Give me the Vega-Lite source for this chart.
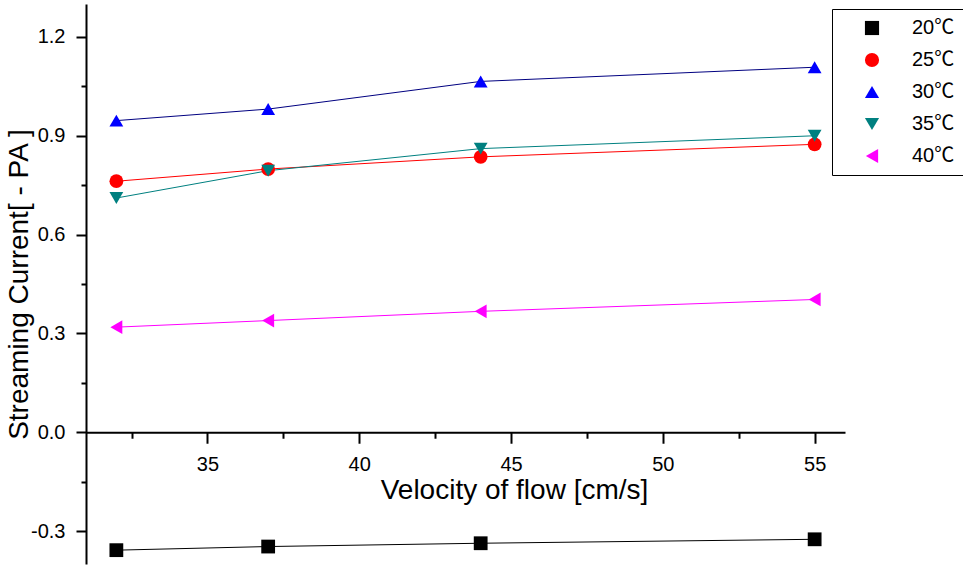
{
  "$schema": "https://vega.github.io/schema/vega-lite/v6.json",
  "width": 759,
  "height": 560,
  "autosize": {"type": "none"},
  "padding": {"left": 86, "top": 4, "right": 118, "bottom": 6},
  "background": "white",
  "config": {
    "view": {"stroke": null},
    "font": "Liberation Sans",
    "axis": {"grid": false, "labelFont": "Liberation Sans", "titleFont": "Liberation Sans", "domainColor": "black", "tickColor": "black", "labelColor": "black", "titleColor": "black", "titleFontWeight": "normal"},
    "legend": {"labelFontSize": 20, "labelFont": "Liberation Sans, Noto Sans CJK SC", "labelColor": "black", "strokeColor": "black", "fillColor": "white", "padding": 9, "rowPadding": 12, "symbolSize": 200, "symbolOffset": 21, "labelOffset": 30}
  },
  "data": {
    "values": [
      {"series": "20℃", "velocity": 32, "current": -0.358},
      {"series": "20℃", "velocity": 37, "current": -0.347},
      {"series": "20℃", "velocity": 44, "current": -0.337},
      {"series": "20℃", "velocity": 55, "current": -0.325},
      {"series": "25℃", "velocity": 32, "current": 0.762},
      {"series": "25℃", "velocity": 37, "current": 0.799},
      {"series": "25℃", "velocity": 44, "current": 0.836},
      {"series": "25℃", "velocity": 55, "current": 0.874},
      {"series": "30℃", "velocity": 32, "current": 0.946},
      {"series": "30℃", "velocity": 37, "current": 0.981},
      {"series": "30℃", "velocity": 44, "current": 1.065},
      {"series": "30℃", "velocity": 55, "current": 1.108},
      {"series": "35℃", "velocity": 32, "current": 0.711},
      {"series": "35℃", "velocity": 37, "current": 0.794},
      {"series": "35℃", "velocity": 44, "current": 0.861},
      {"series": "35℃", "velocity": 55, "current": 0.900},
      {"series": "40℃", "velocity": 32, "current": 0.319},
      {"series": "40℃", "velocity": 37, "current": 0.339},
      {"series": "40℃", "velocity": 44, "current": 0.367},
      {"series": "40℃", "velocity": 55, "current": 0.403}
    ]
  },
  "layer": [
    {
      "mark": {"type": "line", "strokeWidth": 1},
      "encoding": {
        "x": {
          "field": "velocity", "type": "quantitative",
          "scale": {"domain": [31, 56], "nice": false, "zero": false},
          "axis": {
            "orient": "bottom",
            "values": [35, 40, 45, 50, 55],
            "offset": {"expr": "scale('y', 0) - height"},
            "tickSize": 11, "tickWidth": 2, "domainWidth": 2,
            "labelFontSize": 20, "labelPadding": 11, "labelFlush": false,
            "title": "Velocity of flow [cm/s]", "titleFontSize": 28, "titlePadding": 2, "titleX": 428
          }
        },
        "y": {
          "field": "current", "type": "quantitative",
          "scale": {"domain": [-0.4, 1.3], "nice": false, "zero": false},
          "axis": {
            "orient": "left",
            "values": [-0.3, 0, 0.3, 0.6, 0.9, 1.2],
            "labelExpr": "datum.value < 0 ? '-' + format(-datum.value, '.1f') : format(datum.value, '.1f')",
            "tickSize": 10, "tickWidth": 2, "domainWidth": 2,
            "labelFontSize": 20, "labelPadding": 11, "labelFlush": false,
            "title": "Streaming Current[ - PA ]", "titleFontSize": 28, "titlePadding": -3
          }
        },
        "stroke": {
          "field": "series", "type": "nominal",
          "scale": {"domain": ["40℃", "35℃", "30℃", "25℃", "20℃"], "range": ["#ff00ff", "#008080", "#000080", "#ff0000", "#000000"]},
          "legend": null
        }
      }
    },
    {
      "mark": {"type": "point", "filled": true, "opacity": 1, "strokeWidth": 0, "size": 190},
      "encoding": {
        "x": {
          "field": "velocity", "type": "quantitative",
          "axis": {
            "orient": "bottom",
            "values": [32.5, 37.5, 42.5, 47.5, 52.5],
            "offset": {"expr": "scale('y', 0) - height"},
            "tickSize": 6, "tickWidth": 2, "domain": false, "labels": false, "title": null
          }
        },
        "y": {
          "field": "current", "type": "quantitative",
          "axis": {
            "orient": "left",
            "values": [-0.15, 0.15, 0.45, 0.75, 1.05],
            "tickSize": 5, "tickWidth": 2, "domain": false, "labels": false, "title": null
          }
        },
        "color": {
          "field": "series", "type": "nominal",
          "scale": {"domain": ["20℃", "25℃", "30℃", "35℃", "40℃"], "range": ["#000000", "#ff0000", "#0000ff", "#008080", "#ff00ff"]},
          "legend": {"orient": "none", "legendX": 746, "legendY": 5, "title": null}
        },
        "shape": {
          "field": "series", "type": "nominal",
          "scale": {"domain": ["20℃", "25℃", "30℃", "35℃", "40℃"], "range": ["square", "circle", "triangle-up", "triangle-down", "triangle-left"]},
          "legend": {"orient": "none", "legendX": 746, "legendY": 5, "title": null}
        }
      }
    }
  ],
  "resolve": {"axis": {"x": "independent", "y": "independent"}}
}
